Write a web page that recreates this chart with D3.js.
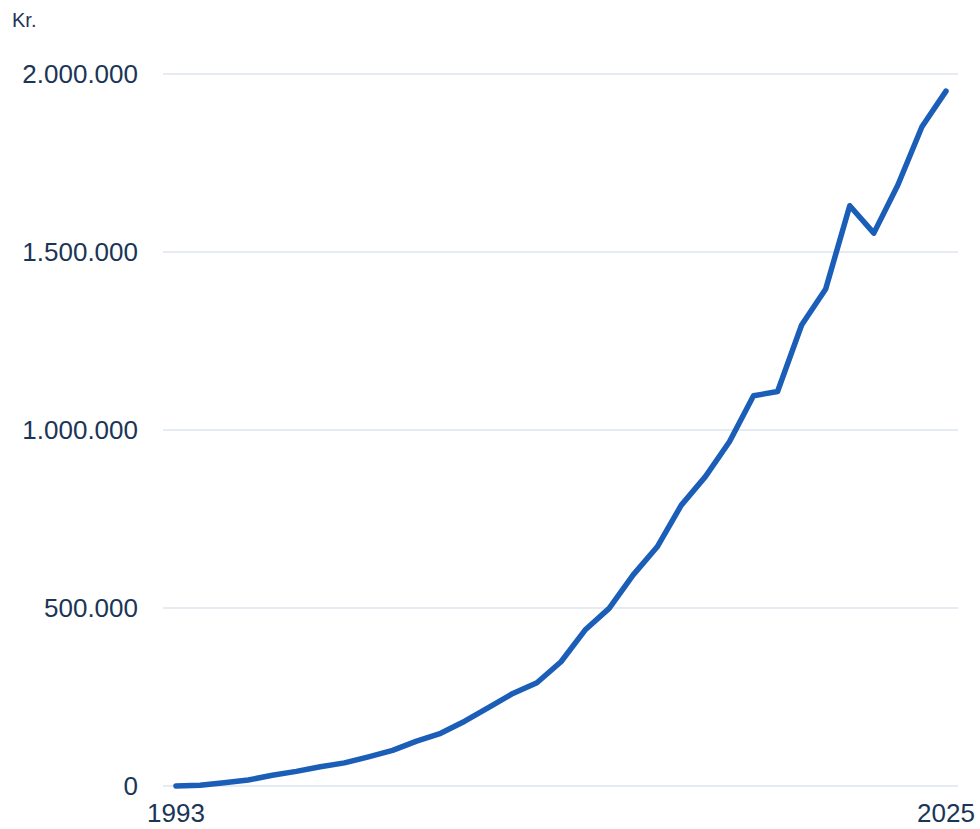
<!DOCTYPE html>
<html lang="da">
<head>
  <meta charset="UTF-8">
  <title>Kr.</title>
  <script src="https://d3js.org/d3.v7.min.js"></script>
  <style>
    body { margin: 0; background: #fff; font-family: 'Liberation Sans', Arial, sans-serif; }
  </style>
</head>
<body>
  <div class="chart"></div>
  <script>
    const years = d3.range(1993, 2026);
    const values = [
      0, 2000, 9000, 17000, 30000, 41000, 54000, 65000, 82000, 100000,
      126000, 148000, 182000, 221000, 260000, 290000, 349000, 438000, 499000, 593000,
      672000, 789000, 869000, 967000, 1096000, 1108000, 1295000, 1396000, 1630000, 1553000,
      1688000, 1852000, 1952000
    ];
    const yTicks = [0, 500000, 1000000, 1500000, 2000000];
    const xTickLabels = [1993, 2025];

    const W = 980, H = 829;
    const textColor = '#1b3556';

    const svg = d3.select('.chart').append('svg').attr('width', W).attr('height', H);

    const x = d3.scaleLinear().domain([1993, 2025]).range([176, 946]);
    const y = d3.scaleLinear().domain([0, 2000000]).range([786, 74]);

    const locale = d3.formatLocale({ decimal: ',', thousands: '.', grouping: [3], currency: ['', ' kr.'] });
    const fmt = locale.format(',d');

    // gridlines
    svg.append('g').selectAll('line').data(yTicks).join('line')
      .attr('x1', 163).attr('x2', 958)
      .attr('y1', d => y(d)).attr('y2', d => y(d))
      .attr('stroke', '#e6eaf2').attr('stroke-width', 2);

    // y labels
    svg.append('g').selectAll('text').data(yTicks).join('text')
      .attr('x', 138).attr('y', d => y(d)).attr('dy', '0.35em')
      .attr('text-anchor', 'end').attr('font-size', 26).attr('fill', textColor)
      .text(d => fmt(d));

    // x labels (only first and last year)
    svg.append('g').selectAll('text').data(xTickLabels).join('text')
      .attr('x', d => x(d)).attr('y', 822)
      .attr('text-anchor', 'middle').attr('font-size', 26).attr('fill', textColor)
      .text(d => d);

    svg.append('text').attr('x', 12).attr('y', 27).attr('font-size', 20).attr('fill', textColor).text('Kr.');

    const data = years.map((yr, i) => ({ year: yr, value: values[i] }));
    const line = d3.line().x(d => x(d.year)).y(d => y(d.value));

    svg.append('path').datum(data).attr('d', line)
      .attr('fill', 'none').attr('stroke', '#1b5eb8').attr('stroke-width', 5.5)
      .attr('stroke-linejoin', 'round').attr('stroke-linecap', 'round');
  </script>
</body>
</html>
